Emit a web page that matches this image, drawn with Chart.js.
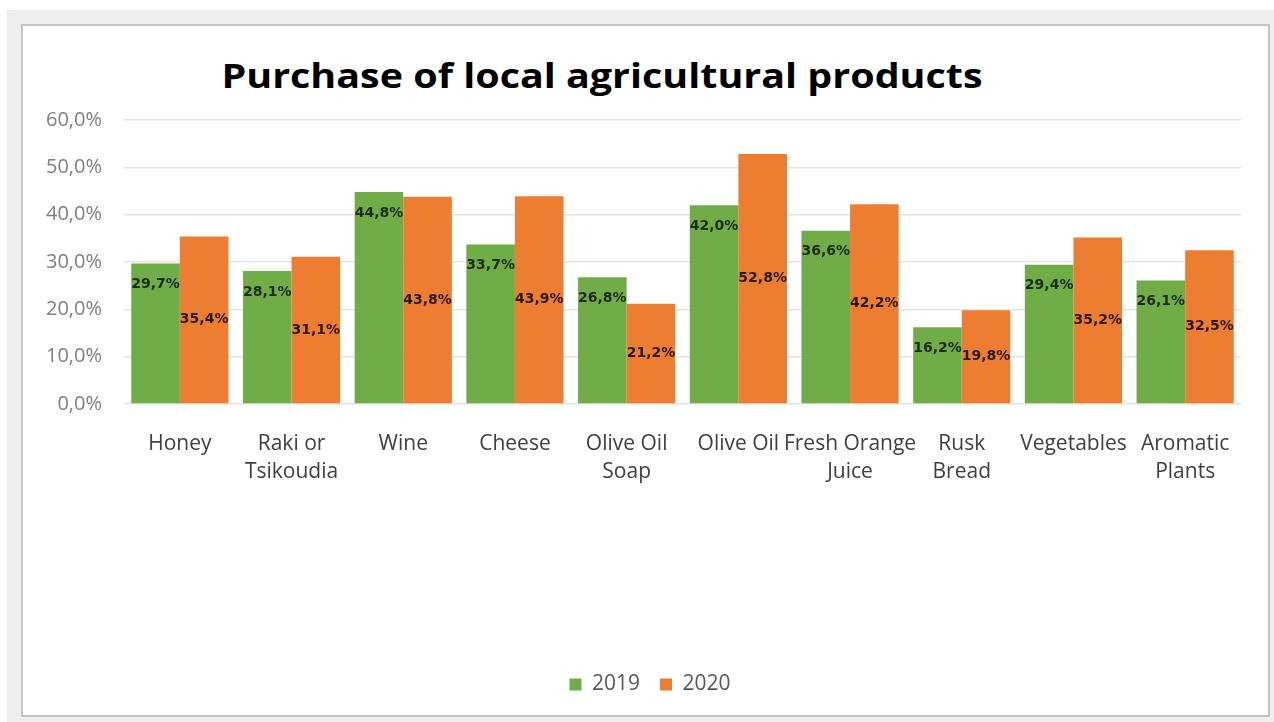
<!DOCTYPE html>
<html>
<head>
<meta charset="utf-8">
<script src="https://cdn.jsdelivr.net/npm/chart.js@4.4.1/dist/chart.umd.min.js"></script>
<style>
  html, body { margin: 0; padding: 0; background: #ffffff; }
  #frame {
    position: absolute; left: 7px; top: 10px; width: 1267px; height: 712px;
    background: #efeded;
  }
  #box {
    position: absolute; left: 21px; top: 24px; width: 1245px; height: 689px;
    background: #ffffff; border: 2px solid #c4c4c4;
  }
  #title {
    position: absolute; left: 0; top: 29px; width: 1158px; margin: 0;
    text-align: center; font-family: "Open Sans", sans-serif; font-weight: bold;
    font-size: 34px; line-height: 40px; color: #000000;
    transform: scaleX(1.16);
  }
  #chart { position: absolute; left: 0; top: 0; }
</style>
</head>
<body>
<div id="frame"></div>
<div id="box">
  <h1 id="title">Purchase of local agricultural products</h1>
  <canvas id="chart" width="1245" height="689"></canvas>
</div>
<script>
// categories and values (percent)
const categories = [
    "Honey",
    ["Raki or", "Tsikoudia"],
    "Wine",
    "Cheese",
    ["Olive Oil", "Soap"],
    "Olive Oil",
    ["Fresh Orange", "Juice"],
    ["Rusk", "Bread"],
    "Vegetables",
    ["Aromatic", "Plants"],
];
const seriesNames = ["2019", "2020"];
const values2019 = [29.7, 28.1, 44.8, 33.7, 26.8, 42.0, 36.6, 16.2, 29.4, 26.1];
const values2020 = [35.4, 31.1, 43.8, 43.9, 21.2, 52.8, 42.2, 19.8, 35.2, 32.5];
const yTicks = [0, 10, 20, 30, 40, 50, 60];

const GREEN = "#70ad47";
const ORANGE = "#ed7d31";

function pct(v) {
    return v.toFixed(1).replace(".", ",") + "%";
}

// draws the value labels: 2019 near the top of the bar, 2020 in the middle
const barLabels = {
    id: "barLabels",
    afterUpdate(chart) {
        // nudge the legend a bit to the right, like the original
        chart.legend.left += 18;
        chart.legend.right += 18;
    },
    afterDatasetsDraw(chart) {
        const ctx = chart.ctx;
        ctx.save();
        ctx.font = "bold 14px 'DejaVu Sans', sans-serif";
        ctx.textAlign = "center";
        ctx.textBaseline = "middle";
        chart.data.datasets.forEach((ds, i) => {
            const meta = chart.getDatasetMeta(i);
            meta.data.forEach((bar, j) => {
                const y = i === 0 ? bar.y + 21 : (bar.y + bar.base) / 2;
                ctx.fillStyle = i === 0 ? "#1d2b12" : "#2a1a0e";
                ctx.fillText(pct(ds.data[j]), bar.x, y);
            });
        });
        ctx.restore();
    },
};

new Chart(document.getElementById("chart"), {
    type: "bar",
    data: {
        labels: categories,
        datasets: [
            { label: seriesNames[0], data: values2019, backgroundColor: GREEN },
            { label: seriesNames[1], data: values2020, backgroundColor: ORANGE },
        ],
    },
    options: {
        responsive: false,
        animation: false,
        datasets: {
            bar: { categoryPercentage: 0.87, barPercentage: 1.0 },
        },
        layout: {
            padding: { top: 94, right: 27, bottom: 10, left: 0 },
        },
        plugins: {
            legend: {
                position: "bottom",
                labels: {
                    boxWidth: 12,
                    boxHeight: 12,
                    padding: 20,
                    color: "#595959",
                    font: { family: "'Open Sans', sans-serif", size: 21 },
                },
            },
            title: { display: false },
            tooltip: { enabled: false },
        },
        scales: {
            x: {
                grid: { display: false, drawTicks: false },
                border: { display: false },
                ticks: {
                    color: "#404040",
                    padding: 26,
                    maxRotation: 0,
                    autoSkip: false,
                    font: { family: "'Open Sans', sans-serif", size: 21, lineHeight: 1.34 },
                },
                afterFit(axis) {
                    axis.height = 250;
                },
            },
            y: {
                min: 0,
                max: 60,
                afterBuildTicks(axis) {
                    axis.ticks = yTicks.map(v => ({ value: v }));
                },
                grid: { color: "#e3e3e3", lineWidth: 1.5, drawTicks: false },
                border: { display: false },
                ticks: {
                    color: "#7f7f7f",
                    padding: 22,
                    font: { family: "'Open Sans', sans-serif", size: 20 },
                    callback: v => pct(v),
                },
                afterFit(axis) {
                    axis.width = 101;
                },
            },
        },
    },
    plugins: [barLabels],
});
</script>
</body>
</html>
